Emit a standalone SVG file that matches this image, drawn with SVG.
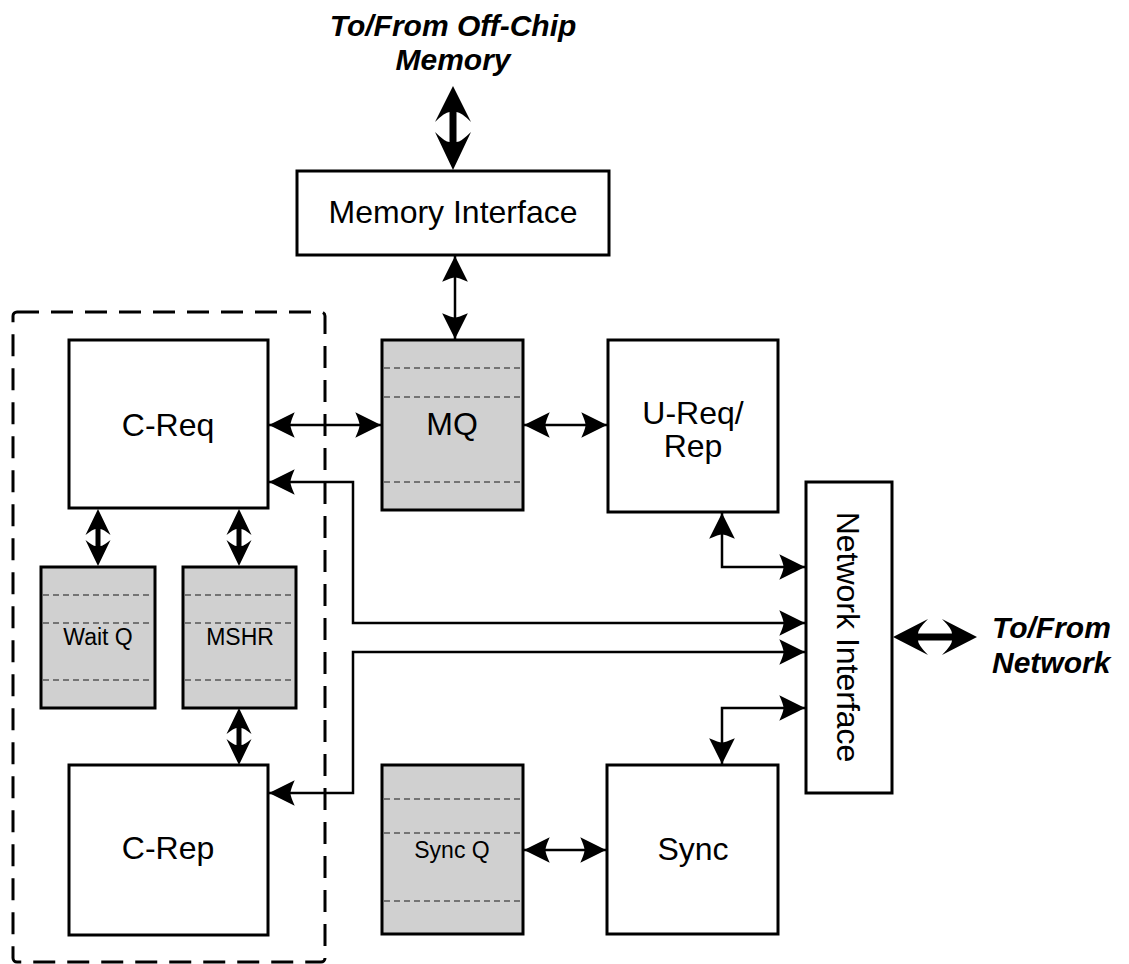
<svg xmlns="http://www.w3.org/2000/svg" width="1129" height="964" viewBox="0 0 1129 964">
<style>
.box{fill:#fff;stroke:#000;stroke-width:3}
.q{fill:#d0d0d0;stroke:#000;stroke-width:3}
.qd{stroke:#555;stroke-width:1.5;stroke-dasharray:6 4;fill:none}
.lbl{font-family:"Liberation Sans",Arial,sans-serif;font-size:32px;fill:#000;text-anchor:middle}
.sm{font-size:23px}
.ext{font-family:"Liberation Sans",Arial,sans-serif;font-size:30px;font-weight:bold;font-style:italic;fill:#000}
.con{fill:none;stroke:#000;stroke-width:2.5;marker-start:url(#ah);marker-end:url(#ah)}
.fat{fill:#000;stroke:none}
</style>
<defs>
<marker id="ah" markerUnits="userSpaceOnUse" markerWidth="30" markerHeight="30" viewBox="-26 -14 28 28" refX="0" refY="0" orient="auto-start-reverse" overflow="visible">
<path d="M0,0 L-24,-12 Q-20,-3 -20,0 Q-20,3 -24,12 Z" fill="#000"/>
</marker>
<path id="dblS" d="M0,0 L12.5,26 Q5,20 2.5,20 L2.5,37 Q5,37 12.5,31 L0,57 L-12.5,31 Q-5,37 -2.5,37 L-2.5,20 Q-5,20 -12.5,26 Z"/>
</defs>

<g id="group-box">
<rect x="13" y="312" width="312" height="650" rx="4" fill="none" stroke="#000" stroke-width="3" stroke-dasharray="22 12"/>
</g>

<g id="offchip-label">
<text class="ext" x="453" y="36" text-anchor="middle">To/From Off-Chip</text>
<text class="ext" x="453" y="70" text-anchor="middle">Memory</text>
</g>

<g id="network-label">
<text class="ext" x="992" y="638">To/From</text>
<text class="ext" x="992" y="673">Network</text>
</g>

<g id="memory-interface">
<rect class="box" x="297" y="171" width="312" height="84"/>
<text class="lbl" x="453" y="223">Memory Interface</text>
</g>

<g id="mq">
<rect class="q" x="382" y="340" width="141" height="170"/>
<line class="qd" x1="384" y1="368" x2="521" y2="368"/>
<line class="qd" x1="384" y1="397" x2="521" y2="397"/>
<line class="qd" x1="384" y1="482" x2="521" y2="482"/>
<text class="lbl" x="452" y="435">MQ</text>
</g>

<g id="ureq-rep">
<rect class="box" x="608" y="340" width="170" height="172"/>
<text class="lbl" x="693" y="424">U-Req/</text>
<text class="lbl" x="693" y="457">Rep</text>
</g>

<g id="c-req">
<rect class="box" x="69" y="340" width="199" height="168"/>
<text class="lbl" x="168" y="436">C-Req</text>
</g>

<g id="wait-q">
<rect class="q" x="41" y="567" width="114" height="141"/>
<line class="qd" x1="43" y1="595" x2="153" y2="595"/>
<line class="qd" x1="43" y1="623" x2="153" y2="623"/>
<line class="qd" x1="43" y1="680" x2="153" y2="680"/>
<text class="lbl sm" x="98" y="645">Wait Q</text>
</g>

<g id="mshr">
<rect class="q" x="183" y="567" width="113" height="141"/>
<line class="qd" x1="185" y1="595" x2="294" y2="595"/>
<line class="qd" x1="185" y1="623" x2="294" y2="623"/>
<line class="qd" x1="185" y1="680" x2="294" y2="680"/>
<text class="lbl sm" x="240" y="645">MSHR</text>
</g>

<g id="c-rep">
<rect class="box" x="69" y="765" width="199" height="170"/>
<text class="lbl" x="168" y="859">C-Rep</text>
</g>

<g id="sync-q">
<rect class="q" x="382" y="765" width="141" height="169"/>
<line class="qd" x1="384" y1="799" x2="521" y2="799"/>
<line class="qd" x1="384" y1="833" x2="521" y2="833"/>
<line class="qd" x1="384" y1="901" x2="521" y2="901"/>
<text class="lbl sm" x="452" y="858">Sync Q</text>
</g>

<g id="sync">
<rect class="box" x="607" y="765" width="171" height="169"/>
<text class="lbl" x="693" y="860">Sync</text>
</g>

<g id="network-interface">
<rect class="box" x="806" y="482" width="86" height="311"/>
<text class="lbl" transform="translate(837,637) rotate(90)" x="0" y="0">Network Interface</text>
</g>

<g id="connectors">
<path class="fat" d="M453,86 L471,122 Q461,112 456.5,112 L456.5,142 Q461,142 471,132 L453,170 L435,132 Q445,142 449.5,142 L449.5,112 Q445,112 435,122 Z"/>
<path class="fat" d="M893,637 L928,619 Q918,629 918,633.5 L952,633.5 Q952,629 942,619 L977,637 L942,655 Q952,645 952,640.5 L918,640.5 Q918,645 928,655 Z"/>
<use href="#dblS" transform="translate(98,509)"/>
<use href="#dblS" transform="translate(239,509)"/>
<use href="#dblS" transform="translate(239,708)"/>
<line class="con" x1="455" y1="256" x2="455" y2="339"/>
<line class="con" x1="269" y1="425" x2="381" y2="425"/>
<line class="con" x1="524" y1="425" x2="607" y2="425"/>
<path class="con" d="M722,513 V567 H805"/>
<path class="con" d="M269,482 H353 V623 H805"/>
<path class="con" d="M269,793 H353 V652 H805"/>
<path class="con" d="M722,764 V708 H805"/>
<line class="con" x1="524" y1="850" x2="606" y2="850"/>
</g>
</svg>
